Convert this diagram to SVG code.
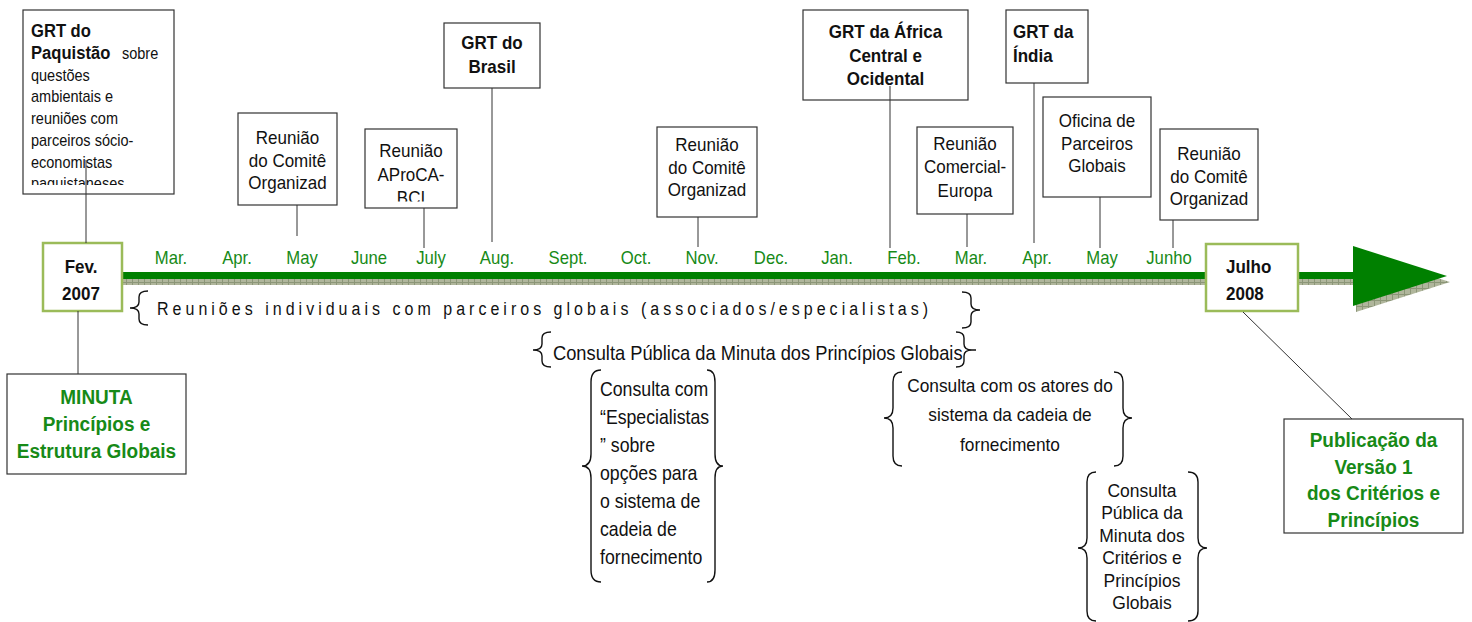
<svg xmlns="http://www.w3.org/2000/svg" width="1472" height="622" viewBox="0 0 1472 622">
<style>
.box{fill:#fff;stroke:#333;stroke-width:1.2}
.gbox{fill:#fff;stroke:#9bbb59;stroke-width:2.5}
.t{font-family:"Liberation Sans",Arial,sans-serif;font-size:17px;fill:#111}
.b{font-weight:bold}
.g{fill:#178a17}
.c{text-anchor:middle}
.m{font-family:"Liberation Sans",Arial,sans-serif;font-size:16.7px;fill:#178a17;text-anchor:middle}
.ln{stroke:#333;stroke-width:1;fill:none}
.br{stroke:#111;stroke-width:1.4;fill:none}
</style>
<defs>
<pattern id="sh" width="6" height="6" patternUnits="userSpaceOnUse"><rect width="6" height="6" fill="#b0b69c"/><path d="M0 0.5H6M0.5 0V6" stroke="#8c9678" stroke-width="1"/></pattern>
<clipPath id="c1"><rect x="23" y="10" width="151" height="175"/></clipPath>
<clipPath id="c3"><rect x="365" y="129" width="92" height="72.5"/></clipPath>
</defs>

<g id="timeline">
<rect x="122" y="279" width="1236" height="6" fill="url(#sh)"/>
<polygon points="1356,252 1450,282 1356,312" fill="url(#sh)"/>
<rect x="122" y="272" width="1236" height="7" fill="#008000"/>
<polygon points="1353,246 1447,276 1353,306" fill="#008000"/>
</g>

<g id="months">
<text class="m" transform="translate(171,264) scale(1,1.1)">Mar.</text>
<text class="m" transform="translate(237,264) scale(1,1.1)">Apr.</text>
<text class="m" transform="translate(302,264) scale(1,1.1)">May</text>
<text class="m" transform="translate(369,264) scale(1,1.1)">June</text>
<text class="m" transform="translate(431,264) scale(1,1.1)">July</text>
<text class="m" transform="translate(497,264) scale(1,1.1)">Aug.</text>
<text class="m" transform="translate(568,264) scale(1,1.1)">Sept.</text>
<text class="m" transform="translate(636,264) scale(1,1.1)">Oct.</text>
<text class="m" transform="translate(702,264) scale(1,1.1)">Nov.</text>
<text class="m" transform="translate(771,264) scale(1,1.1)">Dec.</text>
<text class="m" transform="translate(837,264) scale(1,1.1)">Jan.</text>
<text class="m" transform="translate(904,264) scale(1,1.1)">Feb.</text>
<text class="m" transform="translate(971,264) scale(1,1.1)">Mar.</text>
<text class="m" transform="translate(1037,264) scale(1,1.1)">Apr.</text>
<text class="m" transform="translate(1102,264) scale(1,1.1)">May</text>
<text class="m" transform="translate(1169,264) scale(1,1.1)">Junho</text>
</g>

<g id="n-paquistao">
<rect class="box" x="23" y="10" width="151" height="184"/>
<g clip-path="url(#c1)">
<text class="t" transform="translate(31,37) scale(1,1.1)"><tspan class="b" x="0" y="0" style="font-size:16.6px">GRT do</tspan><tspan class="b" x="0" dy="19.8" style="font-size:16.6px">Paquistão</tspan><tspan x="91" style="font-size:14.5px">sobre</tspan><tspan x="0" dy="19.8" style="font-size:14.5px">questões</tspan><tspan x="0" dy="19.8" style="font-size:14.5px">ambientais e</tspan><tspan x="0" dy="19.8" style="font-size:14.5px">reuniões com</tspan><tspan x="0" dy="19.8" style="font-size:14.5px">parceiros sócio-</tspan><tspan x="0" dy="19.8" style="font-size:14.5px">economistas</tspan><tspan x="0" dy="19.8" style="font-size:14.5px">paquistaneses</tspan></text>
</g>
</g>

<g id="n-comite1">
<rect class="box" x="238" y="113" width="99" height="92"/>
<text class="t c" transform="translate(287.5,144) scale(1,1.1)"><tspan x="0" y="0">Reunião</tspan><tspan x="0" dy="20.6">do Comitê</tspan><tspan x="0" dy="20.6">Organizad</tspan></text>
</g>

<g id="n-aproca">
<rect class="box" x="365" y="129" width="92" height="79"/>
<g clip-path="url(#c3)">
<text class="t c" transform="translate(411,157) scale(1,1.1)"><tspan x="0" y="0">Reunião</tspan><tspan x="0" dy="21.4">AProCA-</tspan><tspan x="0" dy="21.4">BCI</tspan></text>
</g>
</g>

<g id="n-brasil">
<rect class="box" x="444" y="23" width="96" height="65"/>
<text class="t b c" transform="translate(492,49) scale(1,1.1)"><tspan x="0" y="0">GRT do</tspan><tspan x="0" dy="21.8">Brasil</tspan></text>
</g>

<g id="n-comite2">
<rect class="box" x="657" y="127" width="100" height="90"/>
<text class="t c" transform="translate(707,151) scale(1,1.1)"><tspan x="0" y="0">Reunião</tspan><tspan x="0" dy="20.5">do Comitê</tspan><tspan x="0" dy="20.5">Organizad</tspan></text>
</g>

<g id="n-africa">
<rect class="box" x="803" y="10" width="165" height="90"/>
<text class="t b c" transform="translate(885.5,38) scale(1,1.1)"><tspan x="0" y="0">GRT da África</tspan><tspan x="0" dy="21.4">Central e</tspan><tspan x="0" dy="21.4">Ocidental</tspan></text>
</g>

<g id="n-europa">
<rect class="box" x="917" y="127" width="96" height="87"/>
<text class="t c" transform="translate(965,150) scale(1,1.1)"><tspan x="0" y="0">Reunião</tspan><tspan x="0" dy="21.2">Comercial-</tspan><tspan x="0" dy="21.2">Europa</tspan></text>
</g>

<g id="n-india">
<rect class="box" x="1006" y="10" width="82" height="73"/>
<text class="t b" transform="translate(1013,38) scale(1,1.1)"><tspan x="0" y="0">GRT da</tspan><tspan x="0" dy="21.8">Índia</tspan></text>
</g>

<g id="n-oficina">
<rect class="box" x="1043" y="97" width="108" height="100"/>
<text class="t c" transform="translate(1097,127) scale(1,1.1)"><tspan x="0" y="0">Oficina de</tspan><tspan x="0" dy="20.5">Parceiros</tspan><tspan x="0" dy="20.5">Globais</tspan></text>
</g>

<g id="n-comite3">
<rect class="box" x="1160" y="129" width="98" height="91"/>
<text class="t c" transform="translate(1209,160) scale(1,1.1)"><tspan x="0" y="0">Reunião</tspan><tspan x="0" dy="20.6">do Comitê</tspan><tspan x="0" dy="20.6">Organizad</tspan></text>
</g>

<g id="n-fev">
<rect class="gbox" x="43" y="243" width="79" height="68"/>
<text class="t b c" transform="translate(81,273) scale(1,1.1)"><tspan x="0" y="0">Fev.</tspan><tspan x="0" dy="24.8">2007</tspan></text>
</g>

<g id="n-julho">
<rect class="gbox" x="1206" y="244" width="92" height="67"/>
<text class="t b" transform="translate(1226,273) scale(1,1.1)"><tspan x="0" y="0">Julho</tspan><tspan x="0" dy="24.8">2008</tspan></text>
</g>

<g id="n-minuta">
<rect class="box" x="7" y="374" width="179" height="100"/>
<text class="t b c g" style="font-size:19px" transform="translate(96.5,404) scale(1,1.1)"><tspan x="0" y="0">MINUTA</tspan><tspan x="0" dy="24.5">Princípios e</tspan><tspan x="0" dy="24.5">Estrutura Globais</tspan></text>
</g>

<g id="n-publicacao">
<rect class="box" x="1284" y="419" width="179" height="114"/>
<text class="t b c g" style="font-size:19px" transform="translate(1373.5,447) scale(1,1.1)"><tspan x="0" y="0">Publicação da</tspan><tspan x="0" dy="24.2">Versão 1</tspan><tspan x="0" dy="24.2">dos Critérios e</tspan><tspan x="0" dy="24.2">Princípios</tspan></text>
</g>

<g id="n-reunioes">
<text class="t" style="font-size:16px" transform="translate(157,315) scale(1,1.1)" textLength="771" lengthAdjust="spacing">Reuniões individuais com parceiros globais (associados/especialistas)</text>
</g>

<g id="n-consulta-publica">
<text class="t" style="font-size:18.3px" transform="translate(553,360) scale(1,1.1)">Consulta Pública da Minuta dos Princípios Globais</text>
</g>

<g id="n-especialistas">
<text class="t" style="font-size:17.7px" transform="translate(600,396) scale(1,1.1)"><tspan x="0" y="0">Consulta com</tspan><tspan x="0" dy="25.4">“Especialistas</tspan><tspan x="0" dy="25.4">” sobre</tspan><tspan x="0" dy="25.4">opções para</tspan><tspan x="0" dy="25.4">o sistema de</tspan><tspan x="0" dy="25.4">cadeia de</tspan><tspan x="0" dy="25.4">fornecimento</tspan></text>
</g>

<g id="n-atores">
<text class="t c" style="font-size:17.3px" transform="translate(1010,392) scale(1,1.1)"><tspan x="0" y="0">Consulta com os atores do</tspan><tspan x="0" dy="26.6">sistema da cadeia de</tspan><tspan x="0" dy="26.6">fornecimento</tspan></text>
</g>

<g id="n-criterios">
<text class="t c" style="font-size:17.5px" transform="translate(1142,497) scale(1,1.1)"><tspan x="0" y="0">Consulta</tspan><tspan x="0" dy="20.4">Pública da</tspan><tspan x="0" dy="20.4">Minuta dos</tspan><tspan x="0" dy="20.4">Critérios e</tspan><tspan x="0" dy="20.4">Princípios</tspan><tspan x="0" dy="20.4">Globais</tspan></text>
</g>

<g id="braces">
<path class="br" d="M148,291 Q139,291 139,297 L139,302 Q139,308 130,308 Q139,308 139,314 L139,319 Q139,325 148,325"/>
<path class="br" d="M962,292 Q971,292 971,298 L971,304 Q971,310 980,310 Q971,310 971,316 L971,322 Q971,328 962,328"/>
<path class="br" d="M551,332 Q542,332 542,338 L542,344 Q542,350 533,350 Q542,350 542,356 L542,361 Q542,367 551,367"/>
<path class="br" d="M956,332 Q964,332 964,338 L964,344 Q964,350 972,350 L976,350 M972,350 Q964,350 964,356 L964,361 Q964,367 956,367"/>
<path class="br" d="M601,370 Q591,370 591,382 L591,454 Q591,466 582,466 Q591,466 591,478 L591,570 Q591,582 601,582"/>
<path class="br" d="M707,370 Q715,370 715,382 L715,454 Q715,466 723,466 Q715,466 715,478 L715,570 Q715,582 707,582"/>
<path class="br" d="M902,372 Q893,372 893,382 L893,408 Q893,418 884,418 Q893,418 893,428 L893,456 Q893,466 902,466"/>
<path class="br" d="M1114,372 Q1123,372 1123,382 L1123,408 Q1123,418 1132,418 Q1123,418 1123,428 L1123,456 Q1123,466 1114,466"/>
<path class="br" d="M1096,472 Q1087,472 1087,482 L1087,538 Q1087,548 1078,548 Q1087,548 1087,558 L1087,611 Q1087,621 1096,621"/>
<path class="br" d="M1188,472 Q1198,472 1198,482 L1198,538 Q1198,548 1207,548 Q1198,548 1198,558 L1198,611 Q1198,621 1188,621"/>
</g>

<g id="connectors">
<line class="ln" x1="86" y1="160" x2="86" y2="243"/>
<line class="ln" x1="297" y1="205" x2="297" y2="236"/>
<line class="ln" x1="424" y1="208" x2="424" y2="248"/>
<line class="ln" x1="492" y1="88" x2="492" y2="242"/>
<line class="ln" x1="698" y1="217" x2="698" y2="247"/>
<line class="ln" x1="890" y1="86" x2="890" y2="248"/>
<line class="ln" x1="967" y1="214" x2="967" y2="247"/>
<line class="ln" x1="1034" y1="83" x2="1034" y2="243"/>
<line class="ln" x1="1100" y1="197" x2="1100" y2="248"/>
<line class="ln" x1="1173" y1="220" x2="1173" y2="248"/>
<line class="ln" x1="78" y1="311" x2="78" y2="374"/>
<line class="ln" x1="1243" y1="312" x2="1352" y2="419"/>
</g>
</svg>
